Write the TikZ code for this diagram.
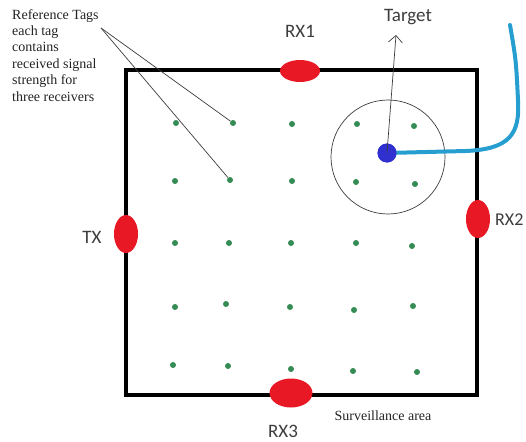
\documentclass[tikz,border=0pt]{standalone}
\usepackage{fontspec}
\setmainfont{Liberation Serif}
\newfontfamily\labelfont{Carlito}
\usetikzlibrary{positioning,arrows.meta,shapes.geometric}
\definecolor{rxred}{RGB}{232,24,36}
\definecolor{tagdot}{RGB}{52,140,84}
\definecolor{targetblue}{RGB}{48,48,208}
\definecolor{cableblue}{RGB}{38,158,208}
\definecolor{inkgray}{RGB}{60,60,60}
\definecolor{notegray}{RGB}{35,35,35}

\begin{document}
\begin{tikzpicture}[x=1pt, y=-1pt,
  rx/.style={ellipse, fill=rxred, inner sep=0pt},
  lab/.style={font=\labelfont\fontsize{19}{22}\selectfont, text=inkgray, inner sep=0pt},
  note/.style={font=\fontsize{14}{16.4}\selectfont, text=notegray, align=left, inner sep=0pt},
  tag/.style={circle, fill=tagdot, inner sep=0pt, minimum size=6pt},
  pointer/.style={draw=inkgray, line width=0.7pt}
]
\useasboundingbox (0,0) rectangle (526,441);

% surveillance area and the zone round the target
\node[draw, line width=4.5pt, minimum width=351pt, minimum height=325pt, inner sep=0pt]
  (area) at (301.5,232.5) {};
\node[draw=inkgray, circle, line width=0.7pt, minimum size=114pt, inner sep=0pt]
  (zone) at (388,157) {};

% reference tags
\foreach \name/\x/\y in {a1/176/123, a2/233/123, a3/292/124, a4/357/124, a5/414/126,
    b1/175/181, b2/230/180, b3/292/181, b4/356/182, b5/415/184,
    c1/175/243, c2/229/243, c3/291/243, c4/356/243, c5/412/246,
    d1/175/307, d2/226/304, d3/290/307, d4/354/310, d5/413/306,
    e1/173/365, e2/228/366, e3/291/369, e4/353/371, e5/417/372}
  \node[tag] (tag-\name) at (\x,\y) {};

% cable and target
\coordinate (cable-end) at (510,25);
\node[circle, fill=targetblue, inner sep=0pt, minimum size=19pt] (target) at (387,153) {};
\draw[cableblue, line width=4pt, line cap=round]
  (target.center) -- (466,151) .. controls (510,149) and (520,134) .. (518,100)
  .. controls (516,60) .. (cable-end);
\node[circle, fill=targetblue, inner sep=0pt, minimum size=19pt] at (target) {};
\coordinate (target-tip) at (396,35);
\draw[-{Straight Barb[length=7pt,width=14pt]}, inkgray, line width=0.7pt]
  (target.center) -- (target-tip);
\node[lab] (target-lbl) at (408,17) {Target};

% transmitter and receivers
\node[rx, minimum width=40pt, minimum height=22pt] (rx1) at (300,71) {};
\node[rx, minimum width=24pt, minimum height=38pt] (tx) at (126,234) {};
\node[rx, minimum width=24pt, minimum height=38pt] (rx2) at (478,219) {};
\node[rx, minimum width=43pt, minimum height=29pt] (rx3) at (291,393) {};
\node[lab] (rx1-lbl) at (300,31) {RX1};
\node[lab] (tx-lbl) at (92,237) {TX};
\node[lab, anchor=west, font=\labelfont\fontsize{18}{22}\selectfont] (rx2-lbl) at (495,220) {RX2};
\node[lab] (rx3-lbl) at (283,431) {RX3};

% notes
\node[note, anchor=north west] (tags-note) at (12,9) {Reference Tags\\each tag\\contains\\received signal\\strength for\\three receivers};
\coordinate (note-pt) at (101,28);
\draw[pointer] (note-pt) -- (tag-a2);
\draw[pointer] (note-pt) -- (tag-b2);
\node[note] (area-lbl) at (383,416) {Surveillance area};
\end{tikzpicture}
\end{document}
